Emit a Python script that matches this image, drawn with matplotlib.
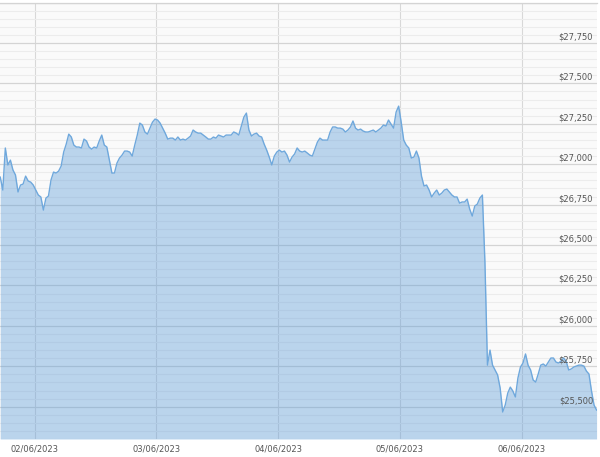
import matplotlib
matplotlib.use("Agg")
import matplotlib.pyplot as plt
import matplotlib.dates as mdates
import matplotlib.transforms as mtransforms
from matplotlib.ticker import MultipleLocator
import pandas as pd
from datetime import datetime

# ---- data (BTC price, 30-minute samples) ----
start_time = "2023-06-01 17:15"
step = "30min"
prices = [
    26920, 26840, 27100, 26995, 27025, 26964, 26933, 26828, 26871, 26877,
    26926, 26896, 26889, 26871, 26840, 26809, 26797, 26716, 26790, 26803,
    26902, 26951, 26945, 26957, 26988, 27075, 27124, 27186, 27168, 27118,
    27106, 27106, 27100, 27155, 27143, 27106, 27093, 27106, 27100, 27143,
    27180, 27118, 27106, 27025, 26945, 26945, 27007, 27038, 27056, 27081,
    27081, 27075, 27050, 27118, 27180, 27254, 27242, 27199, 27186, 27223,
    27260, 27279, 27273, 27254, 27223, 27192, 27155, 27161, 27161, 27149,
    27168, 27149, 27155, 27149, 27161, 27174, 27211, 27199, 27192, 27192,
    27180, 27168, 27155, 27155, 27168, 27161, 27180, 27174, 27168, 27180,
    27180, 27180, 27199, 27192, 27180, 27236, 27291, 27316, 27211, 27174,
    27186, 27192, 27174, 27168, 27124, 27087, 27044, 26995, 27050, 27075,
    27087, 27075, 27081, 27056, 27013, 27044, 27063, 27100, 27081, 27075,
    27081, 27069, 27056, 27050, 27093, 27137, 27161, 27149, 27149, 27149,
    27199, 27230, 27230, 27223, 27223, 27217, 27199, 27211, 27230, 27267,
    27223, 27211, 27217, 27205, 27199, 27199, 27205, 27211, 27199, 27211,
    27223, 27242, 27236, 27273, 27248, 27223, 27322, 27359, 27260, 27149,
    27118, 27100, 27038, 27044, 27081, 27038, 26926, 26865, 26871, 26840,
    26797, 26821, 26840, 26809, 26821, 26840, 26846, 26828, 26809, 26797,
    26797, 26759, 26766, 26766, 26784, 26722, 26679, 26741, 26753, 26790,
    26809, 26395, 25757, 25850, 25757, 25727, 25696, 25615, 25467, 25510,
    25584, 25621, 25597, 25560, 25677, 25745, 25770, 25826, 25757, 25727,
    25665, 25652, 25702, 25757, 25764, 25751, 25776, 25801, 25801, 25776,
    25770, 25782, 25801, 25782, 25727, 25733, 25745, 25751, 25757, 25757,
    25751, 25720, 25702, 25597, 25510, 25479,
]
date_ticks = ["2023-06-02", "2023-06-03", "2023-06-04", "2023-06-05", "2023-06-06"]
date_labels = ["02/06/2023", "03/06/2023", "04/06/2023", "05/06/2023", "06/06/2023"]
price_ticks = [25500, 25750, 26000, 26250, 26500, 26750, 27000, 27250, 27500, 27750]
price_labels = ["$25,500", "$25,750", "$26,000", "$26,250", "$26,500",
                "$26,750", "$27,000", "$27,250", "$27,500", "$27,750"]

times = pd.date_range(start=start_time, periods=len(prices), freq=step)
df = pd.DataFrame({"time": times, "price": prices})

# ---- figure ----
W, H = 600, 457
fig = plt.figure(figsize=(W / 100, H / 100), dpi=100)
fig.patch.set_facecolor("white")
ax = fig.add_axes([0.0, (H - 439) / H, 597 / W, (439 - 2.5) / H])
ax.set_facecolor("#fafafa")

ax.set_ylim(25300, 28000)
ax.set_xlim(datetime(2023, 6, 1, 17, 12), datetime(2023, 6, 6, 14, 50))

# grid
ax.yaxis.set_minor_locator(MultipleLocator(50))
ax.yaxis.set_major_locator(MultipleLocator(250))
ax.grid(which="minor", axis="y", color="#ececec", lw=0.8, zorder=0)
ax.grid(which="major", axis="y", color="#d4d4d4", lw=0.9, zorder=0)
ax.set_xticks([pd.Timestamp(d) for d in date_ticks])
ax.set_xticklabels(date_labels)
ax.grid(which="major", axis="x", color="#d8d8d8", lw=0.8, zorder=0)
ax.set_axisbelow(True)

# area
ax.fill_between(df["time"], df["price"], 25300, color="#5b9bd8", alpha=0.40,
                lw=0, zorder=2)
ax.plot(df["time"], df["price"], color="#6fa8dc", lw=1.0, zorder=3)

# ticks
ax.tick_params(axis="y", which="both", left=False, right=False,
               labelleft=False, labelright=False)
ax.tick_params(axis="x", which="both", length=0, pad=4, labelsize=6,
               labelcolor="#555555")
for lab in ax.get_xticklabels():
    lab.set_fontfamily("DejaVu Sans")

# right-side price labels, inside plot
trans = mtransforms.blended_transform_factory(ax.transAxes, ax.transData)
trans = mtransforms.offset_copy(trans, fig=fig, x=-4, y=1.5, units="dots")
for v, s in zip(price_ticks, price_labels):
    ax.text(1.0, v, s, transform=trans, ha="right", va="bottom", fontsize=6,
            color="#555555", zorder=5)

for side in ["left", "right", "bottom"]:
    ax.spines[side].set_visible(False)
ax.spines["top"].set_color("#d4d4d4")
ax.spines["top"].set_linewidth(0.9)

fig.savefig("out.png", dpi=100)
